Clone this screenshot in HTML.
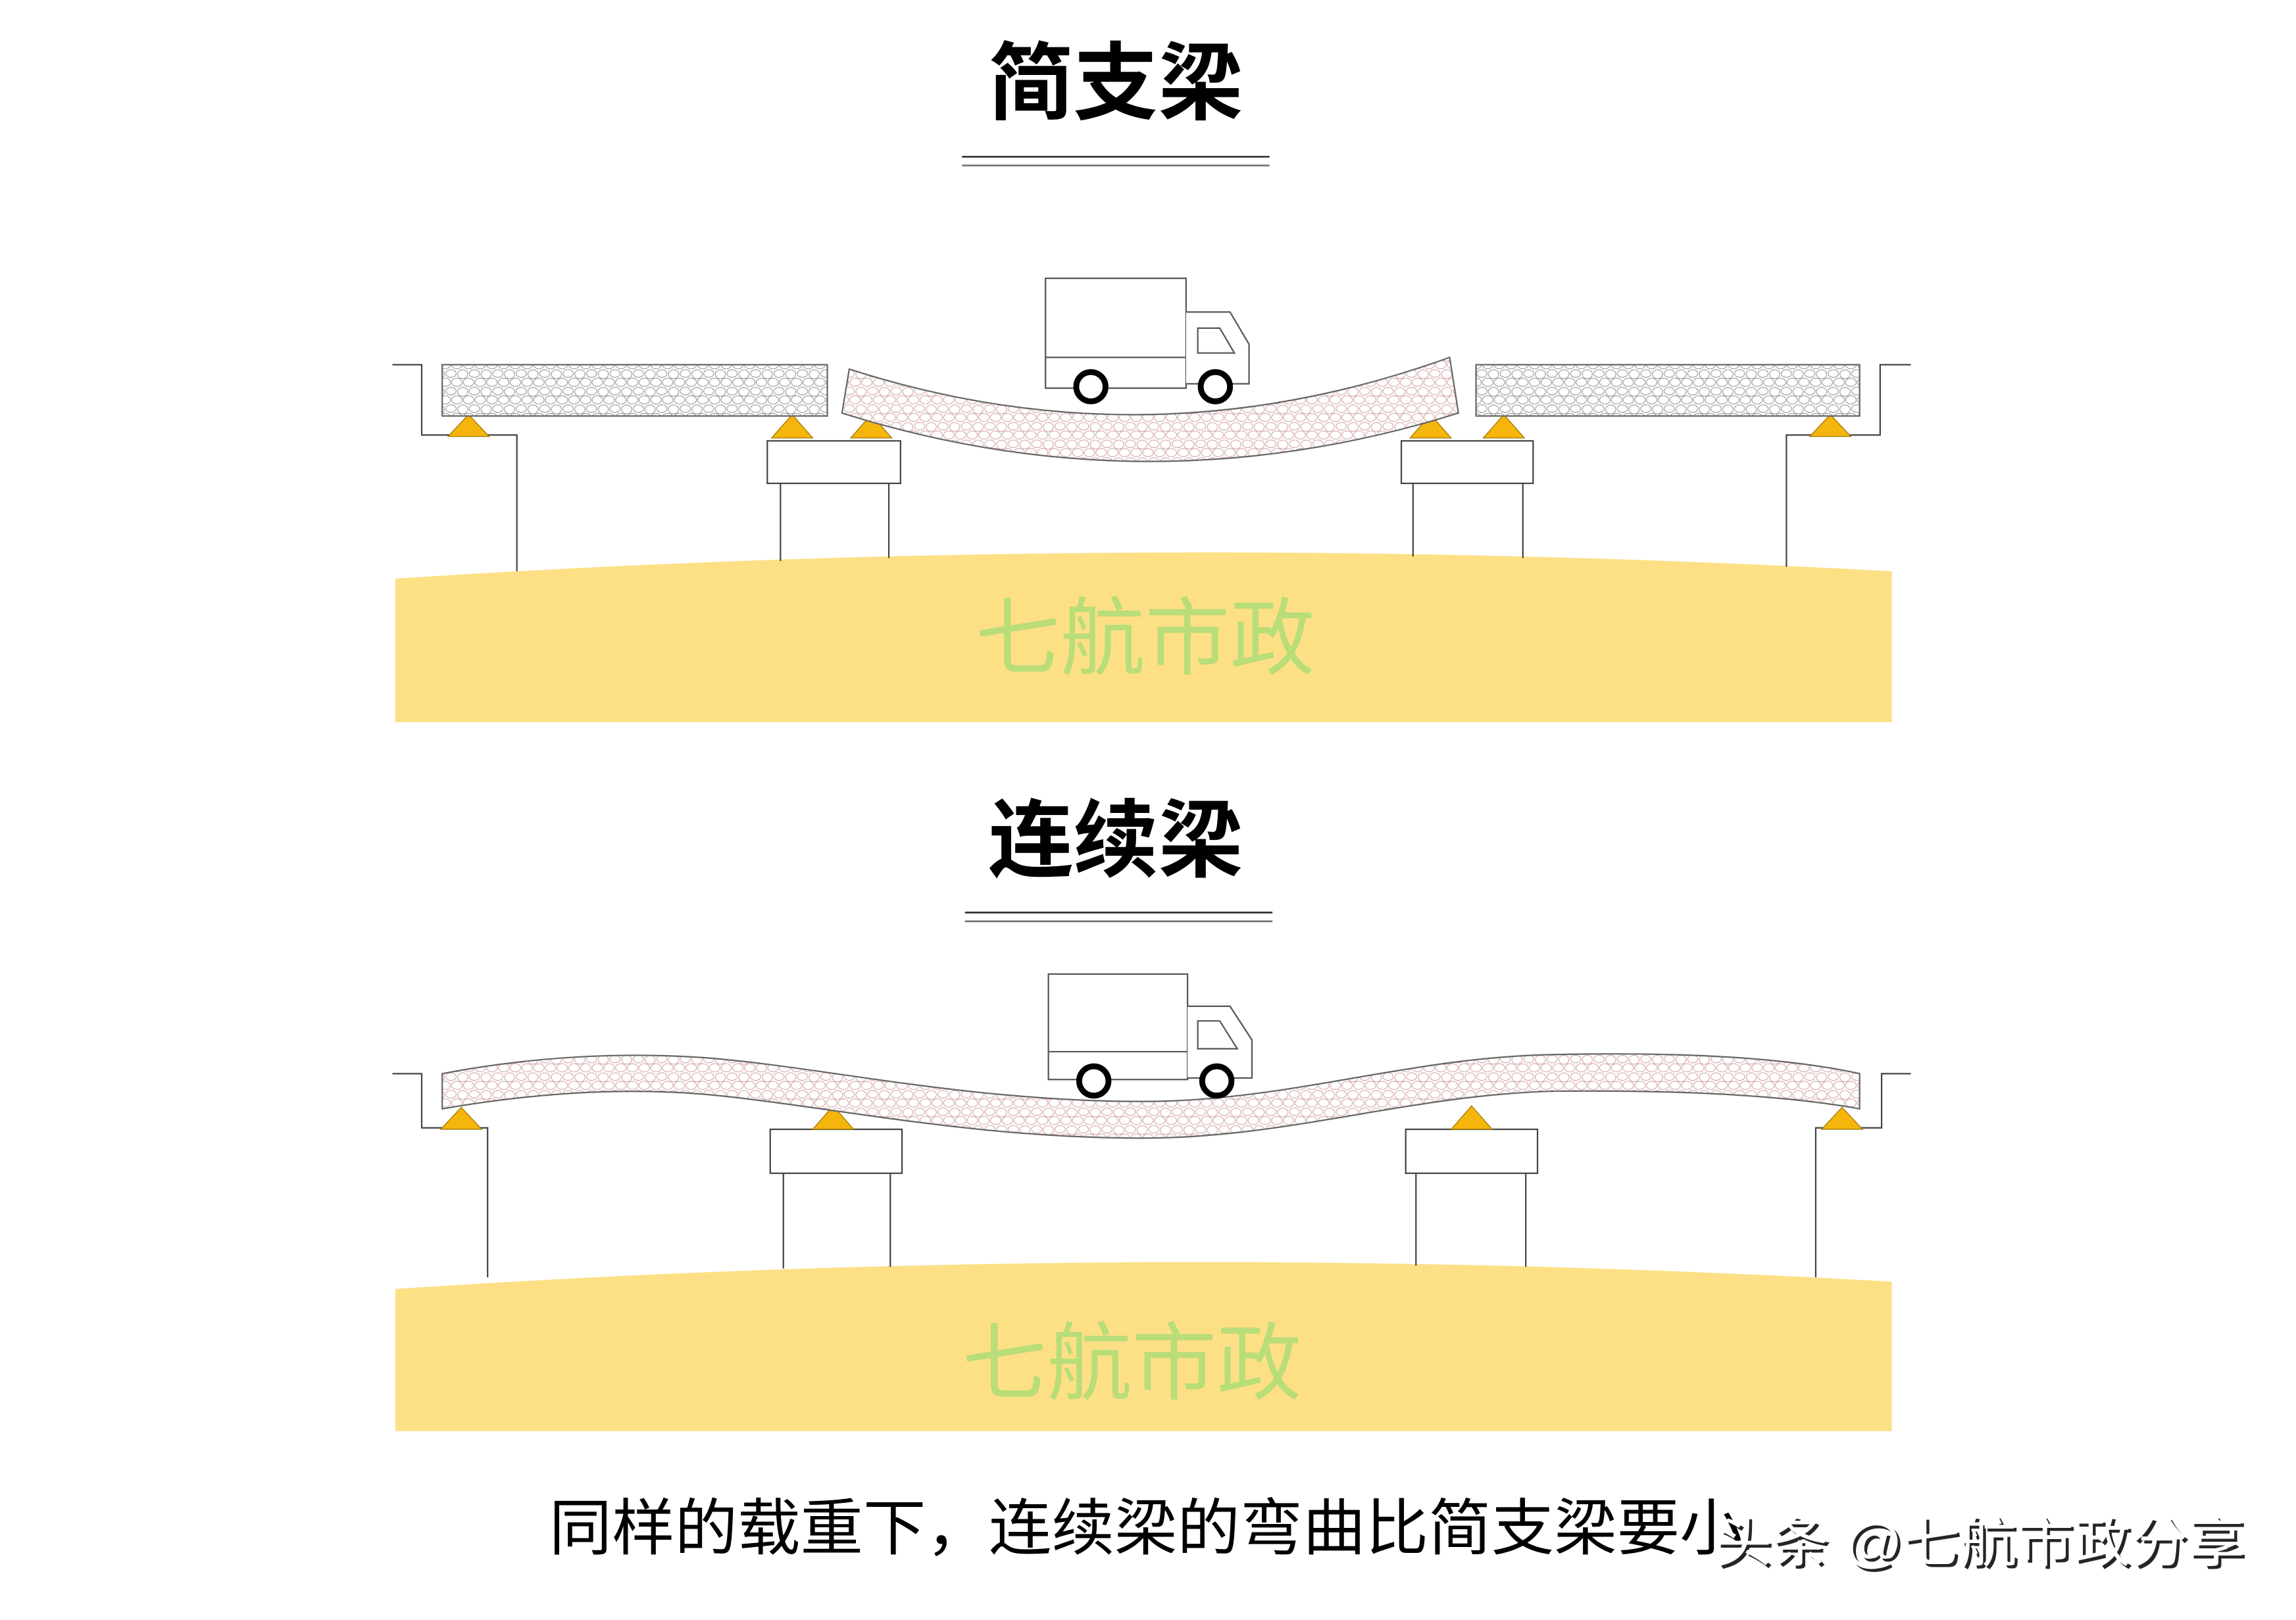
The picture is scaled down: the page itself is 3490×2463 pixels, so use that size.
<!DOCTYPE html>
<html><head><meta charset="utf-8"><style>
html,body{margin:0;padding:0;background:#fff;}
svg{display:block;}
text{font-family:"Liberation Sans","Noto Sans CJK SC",sans-serif;}
</style></head><body>
<svg width="3490" height="2463" viewBox="0 0 1568 1106" preserveAspectRatio="none" xmlns="http://www.w3.org/2000/svg">
<defs>
<pattern id="pg" width="16" height="12" patternUnits="userSpaceOnUse">
<rect width="16" height="12" fill="#fff"/>
<ellipse cx="4" cy="3" rx="3.5" ry="2.6" fill="none" stroke="#999" stroke-width="0.5"/>
<ellipse cx="12" cy="3.5" rx="3.5" ry="3" fill="none" stroke="#999" stroke-width="0.5"/>
<ellipse cx="8" cy="9" rx="3.6" ry="2.8" fill="none" stroke="#999" stroke-width="0.5"/>
<ellipse cx="0" cy="9" rx="3.6" ry="2.8" fill="none" stroke="#999" stroke-width="0.5"/>
<ellipse cx="16" cy="9" rx="3.6" ry="2.8" fill="none" stroke="#999" stroke-width="0.5"/>
</pattern>
<pattern id="pr" width="16" height="12" patternUnits="userSpaceOnUse">
<rect width="16" height="12" fill="#fff"/>
<ellipse cx="4" cy="3" rx="3.5" ry="2.6" fill="none" stroke="#d4a8a8" stroke-width="0.5"/>
<ellipse cx="12" cy="3.5" rx="3.5" ry="3" fill="none" stroke="#d4a8a8" stroke-width="0.5"/>
<ellipse cx="8" cy="9" rx="3.6" ry="2.8" fill="none" stroke="#d4a8a8" stroke-width="0.5"/>
<ellipse cx="0" cy="9" rx="3.6" ry="2.8" fill="none" stroke="#d4a8a8" stroke-width="0.5"/>
<ellipse cx="16" cy="9" rx="3.6" ry="2.8" fill="none" stroke="#d4a8a8" stroke-width="0.5"/>
</pattern>
</defs>

<text x="762" y="77" font-size="58" font-weight="bold" text-anchor="middle" fill="#000">简支梁</text>
<line x1="657" y1="107" x2="867" y2="107" stroke="#333" stroke-width="1.2"/>
<line x1="657" y1="113" x2="867" y2="113" stroke="#777" stroke-width="1.2"/>

<path d="M270,395 Q780,362 1292,390 L1292,493 L270,493 Z" fill="#fde086"/>
<text x="782" y="456" font-size="58" text-anchor="middle" fill="#b9dd78">七航市政</text>

<g fill="none" stroke="#444" stroke-width="1">
<polyline points="268,249 288,249 288,297 353,297 353,390"/>
<rect x="524" y="301" width="91" height="29" fill="#fff"/>
<line x1="533" y1="330" x2="533" y2="383"/>
<line x1="607" y1="330" x2="607" y2="381"/>
<rect x="957" y="301" width="90" height="29" fill="#fff"/>
<line x1="965" y1="330" x2="965" y2="380"/>
<line x1="1040" y1="330" x2="1040" y2="381"/>
<polyline points="1305,249 1284,249 1284,297 1220,297 1220,387"/>
</g>
<g fill="#f5b50c" stroke="#a07a00" stroke-width="0.6">
<polygon points="320,283 306,298 334,298"/>
<polygon points="541,283 527,299 555,299"/>
<polygon points="595,283 581,299 609,299"/>
<polygon points="977,283 963,299 991,299"/>
<polygon points="1027,283 1013,299 1041,299"/>
<polygon points="1250,283 1236,298 1264,298"/>
</g>
<rect x="302" y="249" width="263" height="35" fill="url(#pg)" stroke="#666" stroke-width="1"/>
<rect x="1008" y="249" width="262" height="35" fill="url(#pg)" stroke="#666" stroke-width="1"/>
<path d="M580,252 Q785,318 990,244 L996,282 Q785,348 575,282 Z" fill="url(#pr)" stroke="#666" stroke-width="1"/>

<g fill="none" stroke="#555" stroke-width="1">
<rect x="714" y="190" width="96" height="75" fill="#fff"/>
<line x1="714" y1="244" x2="810" y2="244"/>
<path d="M810,213 L840,213 L853,235 L853,262 L810,262" fill="#fff"/>
<path d="M818,224 L833,224 L843,241 L818,241 Z"/>
</g>
<circle cx="745" cy="264" r="10" fill="#fff" stroke="#000" stroke-width="4"/>
<circle cx="830" cy="264" r="10" fill="#fff" stroke="#000" stroke-width="4"/>

<text x="762" y="594" font-size="58" font-weight="bold" text-anchor="middle" fill="#000">连续梁</text>
<line x1="659" y1="623" x2="869" y2="623" stroke="#333" stroke-width="1.2"/>
<line x1="659" y1="629" x2="869" y2="629" stroke="#777" stroke-width="1.2"/>

<path d="M270,880 Q780,846 1292,875 L1292,977 L270,977 Z" fill="#fde086"/>
<text x="773" y="951" font-size="58" text-anchor="middle" fill="#b9dd78">七航市政</text>

<g fill="none" stroke="#444" stroke-width="1">
<polyline points="268,733 288,733 288,770 333,770 333,872"/>
<rect x="526" y="771" width="90" height="30" fill="#fff"/>
<line x1="535" y1="801" x2="535" y2="866"/>
<line x1="608" y1="801" x2="608" y2="865"/>
<rect x="960" y="771" width="90" height="30" fill="#fff"/>
<line x1="967" y1="801" x2="967" y2="864"/>
<line x1="1042" y1="801" x2="1042" y2="865"/>
<polyline points="1305,733 1285,733 1285,770 1240,770 1240,872"/>
</g>
<g fill="#f5b50c" stroke="#a07a00" stroke-width="0.6">
<polygon points="315,756 301,771 329,771"/>
<polygon points="569,755 555,771 583,771"/>
<polygon points="1005,755 991,771 1019,771"/>
<polygon points="1258,756 1244,771 1272,771"/>
</g>
<path d="M302,733 C360,722 420,718 480,722 C560,728 660,752 780,752 C880,752 960,722 1060,720 C1150,718 1220,722 1270,733 L1270,757 C1220,748 1150,744 1060,745 C960,748 880,777 780,777 C660,777 560,754 480,747 C420,742 360,747 302,757 Z" fill="url(#pr)" stroke="#666" stroke-width="1"/>

<g fill="none" stroke="#555" stroke-width="1">
<rect x="716" y="665" width="95" height="72" fill="#fff"/>
<line x1="716" y1="718" x2="811" y2="718"/>
<path d="M811,687 L840,687 L855,710 L855,736 L811,736" fill="#fff"/>
<path d="M818,697 L833,697 L845,716 L818,716 Z"/>
</g>
<circle cx="747" cy="738" r="10" fill="#fff" stroke="#000" stroke-width="4"/>
<circle cx="831" cy="738" r="10" fill="#fff" stroke="#000" stroke-width="4"/>

<text x="375" y="1058" font-size="42" textLength="815" lengthAdjust="spacingAndGlyphs" fill="#000">同样的载重下，连续梁的弯曲比简支梁要小</text>
<text x="1173" y="1068" font-size="37" textLength="362" lengthAdjust="spacingAndGlyphs" fill="#000" opacity="0.85">头条 @七航市政分享</text>
<text x="1171" y="1066" font-size="37" textLength="362" lengthAdjust="spacingAndGlyphs" fill="#fff">头条 @七航市政分享</text>
</svg>
</body></html>
